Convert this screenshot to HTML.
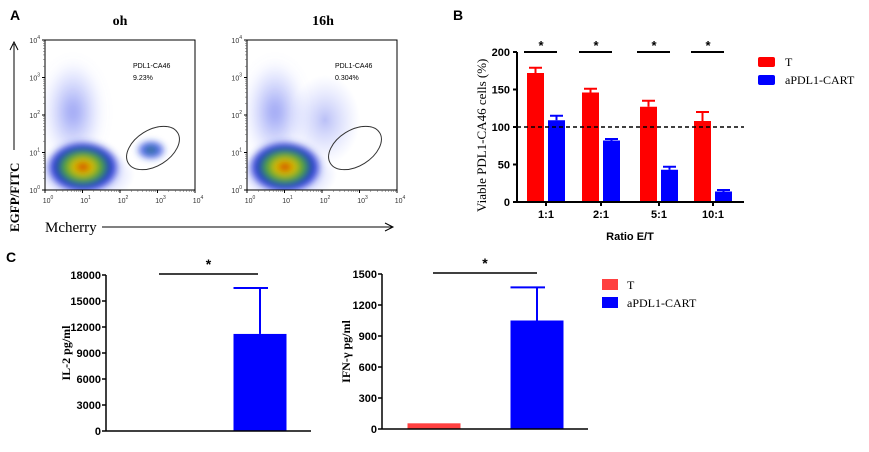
<!DOCTYPE html>
<html><head><meta charset="utf-8"><style>
body{margin:0;background:#fff}
svg{display:block}
text{font-family:"Liberation Sans",Arial,sans-serif}
.tk{font-size:11px;font-weight:bold;fill:#000}
.sr{font-family:"Liberation Serif",serif}
</style></head><body>
<svg id="fig" width="869" height="452" viewBox="0 0 869 452">
<defs>
<filter id="bl" x="-50%" y="-50%" width="200%" height="200%"><feGaussianBlur stdDeviation="6"/></filter>
<filter id="bl2" x="-50%" y="-50%" width="200%" height="200%"><feGaussianBlur stdDeviation="3"/></filter>
<radialGradient id="core"><stop offset="0" stop-color="#d03000"/><stop offset="0.25" stop-color="#d8c000"/><stop offset="0.5" stop-color="#40a040"/><stop offset="0.75" stop-color="#2030d0"/><stop offset="1" stop-color="#3040e0" stop-opacity="0"/></radialGradient>
<radialGradient id="cloud"><stop offset="0" stop-color="#4050e8" stop-opacity="0.6"/><stop offset="1" stop-color="#8090ff" stop-opacity="0"/></radialGradient>
<radialGradient id="gcl"><stop offset="0" stop-color="#308070"/><stop offset="0.5" stop-color="#2040e0" stop-opacity="0.8"/><stop offset="1" stop-color="#2040e0" stop-opacity="0"/></radialGradient>
<clipPath id="c0"><rect x="45" y="40" width="150" height="150"/></clipPath>
<clipPath id="c1"><rect x="247" y="40" width="150" height="150"/></clipPath>
</defs>
<g id="panelA">
<text x="10" y="20" font-size="14" font-weight="bold">A</text>
<text x="120" y="25" text-anchor="middle" class="sr" font-size="14" font-weight="bold">oh</text>
<text x="323" y="25" text-anchor="middle" class="sr" font-size="14" font-weight="bold">16h</text>
<line x1="14" y1="150" x2="14" y2="44" stroke="#000"/>
<path d="M10,50 L14,42 L18,50" fill="none" stroke="#000"/>
<text transform="translate(19,232) rotate(-90)" class="sr" font-size="13" font-weight="bold">EGFP/FITC</text>
<text x="45" y="232" class="sr" font-size="15">Mcherry</text>
<line x1="102" y1="227" x2="392" y2="227" stroke="#000"/>
<path d="M385,223 L393,227 L385,231" fill="none" stroke="#000"/>
<g id="plots"></g>
</g>
<g id="panelB"></g>
<g id="panelC"></g>
</svg>
<script>
// ---------- Panel B data ----------
const bCategories=["1:1","2:1","5:1","10:1"];
const bT=[172,146,127,108];
const bTErr=[7,5,8,12];
const bCART=[109,82,43,14];
const bCARTErr=[6,2,4,2];
const bTicks=[0,50,100,150,200];
// ---------- Panel C data ----------
const il2Values=[0,11200];
const il2Err=[0,5300];
const il2Ticks=[0,3000,6000,9000,12000,15000,18000];
const ifnValues=[55,1050];
const ifnErr=[0,320];
const ifnTicks=[0,300,600,900,1200,1500];
const flowLabels=["9.23%","0.304%"];

const NS="http://www.w3.org/2000/svg";
function el(p,tag,attrs,txt){const e=document.createElementNS(NS,tag);for(const k in attrs)e.setAttribute(k,attrs[k]);if(txt!==undefined)e.textContent=txt;p.appendChild(e);return e;}

// ---------- Panel A ----------
const plots=document.getElementById('plots');
[45,247].forEach((x0,pi)=>{
  const g=el(plots,'g',{});
  
  
  const y0=40,W=150;
  el(g,'rect',{x:x0,y:y0,width:W,height:W,fill:'#fff',stroke:'none'});
  const cg=el(g,'g',{'clip-path':'url(#c'+pi+')'});
  el(cg,'ellipse',{cx:x0+28,cy:y0+72,rx:30,ry:52,fill:'url(#cloud)',filter:'url(#bl)'});
  el(cg,'ellipse',{cx:x0+40,cy:y0+135,rx:50,ry:28,fill:'url(#cloud)'});
  if(pi===1)el(cg,'ellipse',{cx:x0+78,cy:y0+80,rx:35,ry:45,fill:'url(#cloud)',opacity:0.6});
  el(cg,'ellipse',{cx:x0+38,cy:y0+127,rx:38,ry:27,fill:'url(#core)',filter:'url(#bl2)'});
  if(pi===0)el(cg,'ellipse',{cx:x0+106,cy:y0+110,rx:16,ry:11,fill:'url(#gcl)',filter:'url(#bl2)'});
  el(g,'rect',{x:x0,y:y0,width:W,height:W,fill:'none',stroke:'#000'});
  el(g,'ellipse',{cx:x0+108,cy:y0+108,rx:29,ry:18,fill:'none',stroke:'#333','stroke-width':1,transform:`rotate(-32 ${x0+108} ${y0+108})`});
  el(g,'text',{x:x0+88,y:y0+28,'font-size':7},'PDL1-CA46');
  el(g,'text',{x:x0+88,y:y0+40,'font-size':7},flowLabels[pi]);
  for(let i=0;i<=4;i++){
    const yy=y0+W-i*37.5, xx=x0+i*37.5;
    el(g,'line',{x1:x0-3,y1:yy,x2:x0,y2:yy,stroke:'#000'});
    el(g,'line',{x1:xx,y1:y0+W,x2:xx,y2:y0+W+3,stroke:'#000'});
    const t=el(g,'text',{x:x0-5,y:yy+3,'font-size':7,'text-anchor':'end',fill:'#333'},'10');
    el(t,'tspan',{dy:-4,'font-size':5},String(i));
    const t2=el(g,'text',{x:xx+3,y:y0+W+13,'font-size':7,'text-anchor':'middle',fill:'#333'},'10');
    el(t2,'tspan',{dy:-4,'font-size':5},String(i));
    if(i<4)for(let m=2;m<10;m++){const o=Math.log10(m)*37.5;
      el(g,'line',{x1:x0-2,y1:yy-o,x2:x0,y2:yy-o,stroke:'#555','stroke-width':0.5});
      el(g,'line',{x1:xx+o,y1:y0+W,x2:xx+o,y2:y0+W+2,stroke:'#555','stroke-width':0.5});}
  }
});

// ---------- Panel B ----------
const B=document.getElementById('panelB');
const bx0=517,bx1=744,by0=202,by1=52,bmax=200;
const byS=v=>by0-(v/bmax)*(by0-by1);
const bCenters=[546,601,659,713];
el(B,'text',{x:453,y:20,'font-size':14,'font-weight':'bold'},'B');
bTicks.forEach(t=>{const y=byS(t);el(B,'line',{x1:bx0-4,y1:y,x2:bx0,y2:y,stroke:'#000','stroke-width':2});
  const tx=el(B,'text',{x:bx0-7,y:y+4,'text-anchor':'end',class:'tk'},String(t));
  });
bCategories.forEach((c,i)=>{
  const cx=bCenters[i];
  el(B,'line',{x1:cx,y1:by0,x2:cx,y2:by0+4,stroke:'#000','stroke-width':2});
  el(B,'text',{x:cx,y:by0+16,'text-anchor':'middle',class:'tk'},c);
  [[bT,bTErr,'#ff0000',-19],[bCART,bCARTErr,'#0000ff',2]].forEach(([vals,errs,col,off],s)=>{
    const x=cx+off,w=17,top=byS(vals[i]),et=byS(vals[i]+errs[i]);
    el(B,'line',{x1:x+w/2,y1:top,x2:x+w/2,y2:et,stroke:col,'stroke-width':2});
    el(B,'line',{x1:x+2,y1:et,x2:x+w-2,y2:et,stroke:col,'stroke-width':2});
    const r=el(B,'rect',{x:x,y:top,width:w,height:by0-top,fill:col});
    
    
  });
  el(B,'line',{x1:cx-22,y1:by1,x2:cx+11,y2:by1,stroke:'#000','stroke-width':2});
  el(B,'text',{x:cx-5,y:by1-2,'text-anchor':'middle','font-size':13,'font-weight':'bold'},'*');
});
el(B,'line',{x1:bx0,y1:byS(100),x2:bx1,y2:byS(100),stroke:'#000','stroke-width':1.5,'stroke-dasharray':'4,3'});
el(B,'line',{x1:bx0,y1:by1,x2:bx0,y2:by0,stroke:'#000','stroke-width':2});
el(B,'line',{x1:bx0,y1:by0,x2:bx1,y2:by0,stroke:'#000','stroke-width':2});
el(B,'text',{transform:'translate(486,212) rotate(-90)',class:'sr','font-size':13},'Viable PDL1-CA46 cells (%)');
el(B,'text',{x:630,y:240,'text-anchor':'middle',class:'tk','font-size':12},'Ratio E/T');
el(B,'rect',{x:758,y:57,width:17,height:10,fill:'#ff0000',rx:2});
el(B,'text',{x:785,y:66,class:'sr','font-size':12},'T');
el(B,'rect',{x:758,y:75,width:17,height:10,fill:'#0000ff',rx:2});
el(B,'text',{x:785,y:84,class:'sr','font-size':12},'aPDL1-CART');

// ---------- Panel C ----------
const C=document.getElementById('panelC');
el(C,'text',{x:6,y:262,'font-size':14,'font-weight':'bold'},'C');
function cchart(ax,ayTop,ay0,axEnd,vals,errs,ticks,centers,label,labelX,sig){
  const max=ticks[ticks.length-1];
  const ys=v=>ay0-(v/max)*(ay0-ayTop);
  ticks.forEach(t=>{const y=ys(t);el(C,'line',{x1:ax-4,y1:y,x2:ax,y2:y,stroke:'#000','stroke-width':1.5});
    el(C,'text',{x:ax-5,y:y+4,'text-anchor':'end',class:'tk','font-size':10},String(t));});
  const cols=['#ff4040','#0000ff'];
  vals.forEach((v,i)=>{
    const w=53,x=centers[i]-w/2,top=ys(v);
    if(errs[i]>0){const et=ys(v+errs[i]),sx=x+w/2;
      el(C,'line',{x1:sx,y1:top,x2:sx,y2:et,stroke:cols[i],'stroke-width':2});
      el(C,'line',{x1:x,y1:et,x2:sx+8,y2:et,stroke:cols[i],'stroke-width':2});}
    const r=el(C,'rect',{x:x,y:top,width:w,height:ay0-top,fill:cols[i]});
    
    
  });
  el(C,'line',{x1:ax,y1:ayTop,x2:ax,y2:ay0,stroke:'#000','stroke-width':1.5});
  el(C,'line',{x1:ax,y1:ay0,x2:axEnd,y2:ay0,stroke:'#000','stroke-width':1.5});
  el(C,'line',{x1:sig[0],y1:ayTop-1,x2:sig[1],y2:ayTop-1,stroke:'#000','stroke-width':1.5});
  el(C,'text',{x:(sig[0]+sig[1])/2,y:ayTop-6,'text-anchor':'middle','font-size':14,'font-weight':'bold'},'*');
  el(C,'text',{transform:`translate(${labelX},${(ayTop+ay0)/2}) rotate(-90)`,'text-anchor':'middle',class:'sr','font-size':12,'font-weight':'bold'},label);
}
cchart(106,275,431,311,il2Values,il2Err,il2Ticks,[157,260],'IL-2  pg/ml',70,[159,258]);
cchart(382,274,429,588,ifnValues,ifnErr,ifnTicks,[434,537],'IFN-γ  pg/ml',350,[433,537]);
el(C,'rect',{x:602,y:279,width:16,height:11,fill:'#ff4040'});
el(C,'text',{x:627,y:289,class:'sr','font-size':12},'T');
el(C,'rect',{x:602,y:297,width:16,height:11,fill:'#0000ff'});
el(C,'text',{x:627,y:307,class:'sr','font-size':12},'aPDL1-CART');
</script>
</body></html>
